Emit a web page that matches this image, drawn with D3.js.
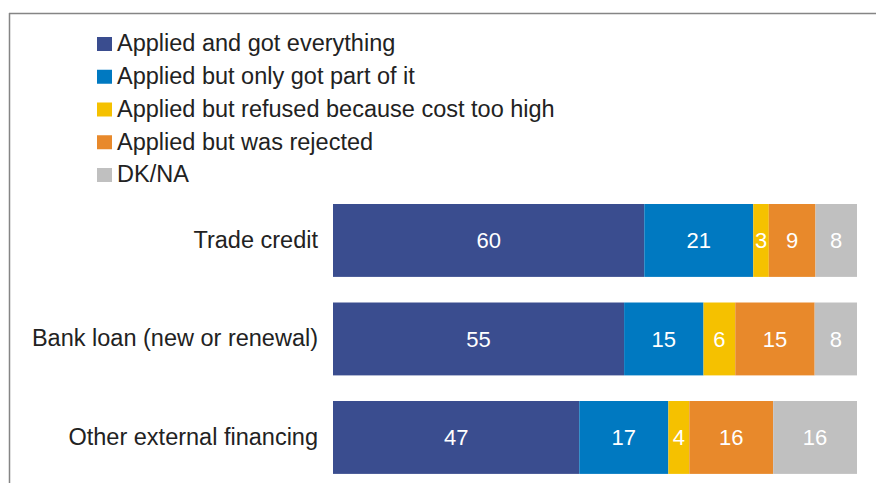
<!DOCTYPE html>
<html>
<head>
<meta charset="utf-8">
<script src="https://cdn.jsdelivr.net/npm/d3@7"></script>
<style>
  html, body { margin: 0; padding: 0; background: #fff; }
  svg { display: block; font-family: "Liberation Sans", Arial, sans-serif; }
</style>
</head>
<body>
<svg id="chart" width="876" height="483"></svg>
<script>
// Financing application outcomes by source (% of firms)
const categories = ["Trade credit", "Bank loan (new or renewal)", "Other external financing"];
const seriesNames = [
  "Applied and got everything",
  "Applied but only got part of it",
  "Applied but refused because cost too high",
  "Applied but was rejected",
  "DK/NA"
];
const gotEverything = [60, 55, 47];
const gotPart       = [21, 15, 17];
const costTooHigh   = [3, 6, 4];
const rejected      = [9, 15, 16];
const dkna          = [8, 8, 16];
const seriesColors  = ["#3a4d8f", "#0079c1", "#f5c100", "#e8892b", "#c0c0c0"];

const seriesValues = [gotEverything, gotPart, costTooHigh, rejected, dkna];
const rows = categories.map((c, i) => {
  const r = { category: c };
  seriesNames.forEach((s, j) => { r[s] = seriesValues[j][i]; });
  return r;
});

const svg = d3.select("#chart");

// Frame lines along the top and left
svg.append("line").attr("x1", 9).attr("x2", 876).attr("y1", 13.5).attr("y2", 13.5)
  .attr("stroke", "#858585").attr("stroke-width", 1.5);
svg.append("line").attr("x1", 9.5).attr("x2", 9.5).attr("y1", 13).attr("y2", 483)
  .attr("stroke", "#858585").attr("stroke-width", 1.5);

// Each row is drawn as shares of its own total (100% stacked)
const stack = d3.stack().keys(seriesNames).offset(d3.stackOffsetExpand);
const layers = stack(rows);

const x = d3.scaleLinear().domain([0, 1]).range([333, 857]);
const y = d3.scaleBand().domain(categories)
  .range([191.2, 486.7]).paddingInner(0.26).paddingOuter(0.13);

const layerG = svg.append("g").selectAll("g").data(layers).join("g")
  .attr("fill", (d, i) => seriesColors[i]);

layerG.selectAll("rect").data(d => d).join("rect")
  .attr("x", d => x(d[0]))
  .attr("y", d => y(d.data.category))
  .attr("width", d => x(d[1]) - x(d[0]))
  .attr("height", y.bandwidth());

// Value labels centred in each segment
layerG.each(function(layer) {
  d3.select(this).selectAll("text").data(layer).join("text")
    .attr("x", d => (x(d[0]) + x(d[1])) / 2)
    .attr("y", d => y(d.data.category) + y.bandwidth() / 2)
    .attr("dy", "0.36em")
    .attr("text-anchor", "middle")
    .attr("fill", "#fff")
    .attr("font-size", 22)
    .text(d => d.data[layer.key]);
});

// Category axis on the left, no line or ticks
const yAxis = svg.append("g").attr("transform", "translate(333,0)")
  .call(d3.axisLeft(y).tickSize(0).tickPadding(15));
yAxis.select(".domain").remove();
yAxis.selectAll("text").attr("font-size", 23.5).attr("fill", "#222")
  .attr("font-family", "'Liberation Sans', Arial, sans-serif");

// Legend
const legend = svg.append("g");
const legendY = d3.scalePoint().domain(seriesNames).range([43, 174]);
const item = legend.selectAll("g").data(seriesNames).join("g")
  .attr("transform", d => `translate(97,${legendY(d)})`);
item.append("rect").attr("x", 0).attr("y", -6).attr("width", 15).attr("height", 14)
  .attr("fill", (d, i) => seriesColors[i]);
item.append("text").attr("x", 20).attr("dy", "0.36em")
  .attr("font-size", 23.5).attr("fill", "#222").text(d => d);
</script>
</body>
</html>
